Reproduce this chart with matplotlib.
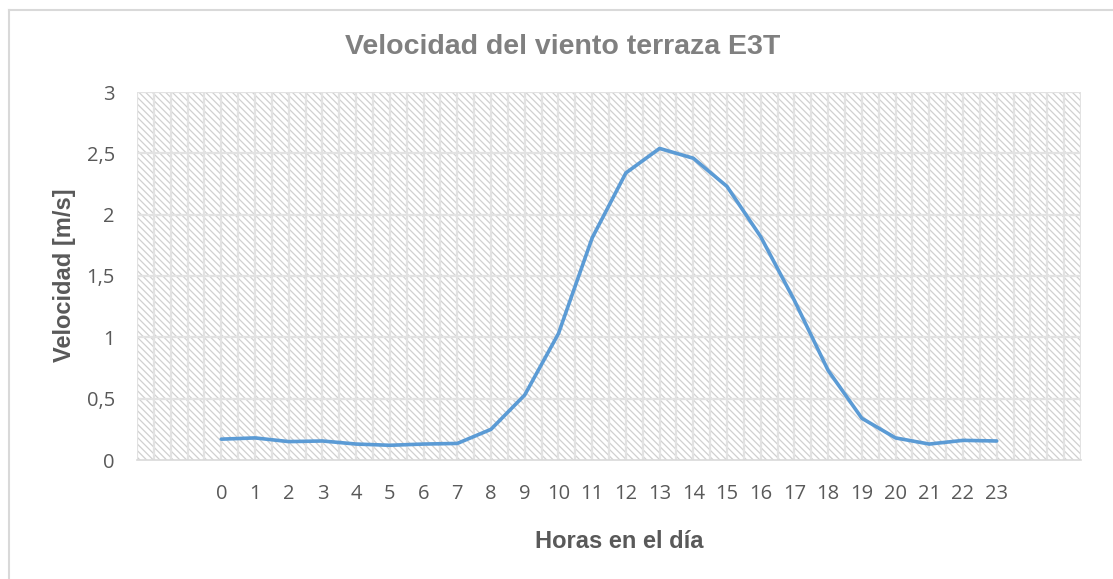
import matplotlib.pyplot as plt
import numpy as np
from matplotlib.lines import Line2D

horas = list(range(24))
velocidad = [0.17, 0.18, 0.15, 0.155, 0.13, 0.12, 0.13, 0.135, 0.25, 0.53,
             1.03, 1.81, 2.34, 2.54, 2.46, 2.23, 1.82, 1.30, 0.73, 0.34,
             0.18, 0.13, 0.16, 0.155]
yticks = [0, 0.5, 1, 1.5, 2, 2.5, 3]
ylabels = ['0', '0,5', '1', '1,5', '2', '2,5', '3']

plt.rcParams['hatch.color'] = '#d0d0d0'
plt.rcParams['hatch.linewidth'] = 0.9

fig = plt.figure(figsize=(11.13, 5.79), dpi=100)
ax = fig.add_axes([137/1113, 1 - 460/579, (1081-137)/1113, (460-92)/579])

# hatched background
ax.axvspan(-2.5, 25.5, facecolor='white', edgecolor='#d0d0d0', hatch='\\\\\\\\\\', lw=0, zorder=0)

for xv in np.arange(-2.5, 25.51, 0.5):
    ax.axvline(xv, color='#e2e2e2', lw=1.6, zorder=1)
for yv in yticks[1:]:
    ax.axhline(yv, color='#e2e2e2', lw=1.6, zorder=1)

ax.plot(horas, velocidad, color='#5b9bd5', lw=2.6, solid_capstyle='round', zorder=3)

ax.set_xlim(-2.5, 25.5)
ax.set_ylim(0, 3)
ax.set_xticks(horas)
ax.set_xticklabels([str(h) for h in horas], family='Open Sans', fontsize=14.5, color='#595959')
ax.set_yticks(yticks)
ax.set_yticklabels(ylabels, family='Open Sans', fontsize=14.5, color='#595959')
ax.tick_params(axis='y', length=0, pad=16)
ax.tick_params(axis='x', length=0, pad=17)
for s in ['top', 'right', 'left']:
    ax.spines[s].set_visible(False)
ax.spines['bottom'].set_color('#d9d9d9')
ax.spines['bottom'].set_linewidth(1.2)

fig.text(563/1113, 1 - 47/579, 'Velocidad del viento terraza E3T', ha='center', va='center',
         family='Liberation Sans', fontweight='bold', fontsize=20.5, color='#808080')
fig.text(619/1113, 1 - 542/579, 'Horas en el día', ha='center', va='center',
         family='Liberation Sans', fontweight='bold', fontsize=17, color='#595959')
fig.text(64/1113, 1 - 275/579, 'Velocidad [m/s]', ha='center', va='center', rotation=90,
         family='Liberation Sans', fontweight='bold', fontsize=17, color='#595959')

# chart frame (top and left edges visible)
fig.add_artist(Line2D([9/1113, 9/1113], [0, 1 - 10/579], transform=fig.transFigure, color='#d9d9d9', lw=1.5))
fig.add_artist(Line2D([9/1113, 1], [1 - 10/579, 1 - 10/579], transform=fig.transFigure, color='#d9d9d9', lw=1.5))

fig.savefig('out.png', dpi=100)
